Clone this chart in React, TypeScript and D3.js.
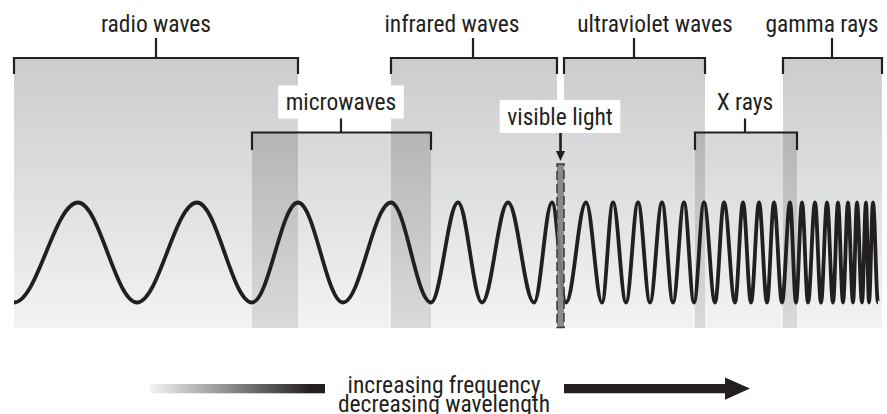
import React, { useEffect, useRef } from "react";
import * as d3 from "d3";

// spectrum bands, positions read along the diagram's horizontal axis
const bandNames = ["radio waves", "infrared waves", "ultraviolet waves", "gamma rays", "microwaves", "X rays", "visible light"];
const bandStart = [14, 391, 564, 783, 252, 695, 557];
const bandEnd = [298, 557, 705, 882, 431, 797, 564];
const bandTier = [0, 0, 0, 0, 1, 1, 2];
const bracketMid = [156, 473, 634, 832, 341, 745, 560];
const labelCenter = [156, 452, 655, 822, 341, 745, 560];

// wave extrema (troughs and peaks), shrinking wavelength to the right
const waveTroughs = [14, 137, 252, 343, 431, 482, 534, 566, 602, 626, 650, 673, 694, 715, 735, 751, 767, 782, 796, 808, 821, 833, 843, 853, 862, 869, 878];
const wavePeaks = [78, 197, 298, 391, 458, 508, 552, 586, 613, 638, 662, 684, 704, 724, 743, 759, 774, 790, 802, 815, 827, 838, 848, 857, 866, 873];

const captionLines = ["increasing frequency", "decreasing wavelength"];

const App: React.FC = () => {
  const ref = useRef<SVGSVGElement | null>(null);

  useEffect(() => {
    const width = 887;
    const height = 414;
    const ink = "#231f20";
    const font = "'Liberation Sans Narrow', 'Arial Narrow', 'Roboto Condensed', sans-serif";
    const fontSize = 23.5;

    const svg = d3.select(ref.current);
    svg.selectAll("*").remove();
    svg.attr("width", width).attr("height", height);

    const x = d3.scaleLinear().domain([0, width]).range([0, width]);
    const y = d3.scaleLinear().domain([-1, 1]).range([302.5, 202.5]);

    const bracketY = [58, 132.5, 164];
    const shadeTop = [58, 132.5, 132.5];
    const labelBase = [32, 110, 124.5];
    const floor = 328;

    const defs = svg.append("defs");
    const grad = (id: string, y1: number, y2: number, c1: string, c2: string) => {
      const lg = defs.append("linearGradient").attr("id", id)
        .attr("gradientUnits", "userSpaceOnUse")
        .attr("x1", 0).attr("x2", 0).attr("y1", y1).attr("y2", y2);
      lg.append("stop").attr("offset", 0).attr("stop-color", c1);
      lg.append("stop").attr("offset", 1).attr("stop-color", c2);
    };
    grad("shade", 58, floor, "#cbccce", "#f2f3f4");
    grad("overlap", 132.5, floor, "#b4b5b7", "#d9dadc");
    const fade = defs.append("linearGradient").attr("id", "fade")
      .attr("gradientUnits", "userSpaceOnUse")
      .attr("x1", 150).attr("x2", 325).attr("y1", 0).attr("y2", 0);
    fade.append("stop").attr("offset", 0).attr("stop-color", "#f4f4f4");
    fade.append("stop").attr("offset", 0.92).attr("stop-color", ink);
    fade.append("stop").attr("offset", 1).attr("stop-color", ink);

    const bands = bandNames.map((name, i) => ({
      name, from: bandStart[i], to: bandEnd[i], tier: bandTier[i], mid: bracketMid[i], labelX: labelCenter[i],
    }));

    // shaded areas
    svg.append("g").selectAll("rect").data(bands).join("rect")
      .attr("x", d => x(d.from)).attr("width", d => x(d.to) - x(d.from))
      .attr("y", d => shadeTop[d.tier]).attr("height", d => floor - shadeTop[d.tier])
      .attr("fill", "url(#shade)");

    // darker where two bands overlap
    const main = bands.filter(d => d.tier < 2);
    const overlaps: { from: number; to: number; top: number }[] = [];
    main.forEach((a, i) => main.slice(i + 1).forEach(b => {
      const lo = Math.max(a.from, b.from), hi = Math.min(a.to, b.to);
      if (hi > lo) overlaps.push({ from: lo, to: hi, top: Math.max(shadeTop[a.tier], shadeTop[b.tier]) });
    }));
    svg.append("g").selectAll("rect").data(overlaps).join("rect")
      .attr("x", d => x(d.from)).attr("width", d => x(d.to) - x(d.from))
      .attr("y", d => d.top).attr("height", d => floor - d.top)
      .attr("fill", "url(#overlap)");

    // white boxes + labels for inner tiers, plain labels on top
    const labels = svg.append("g").attr("font-family", font).attr("font-size", fontSize).attr("fill", ink);
    bands.forEach(d => {
      const g = labels.append("g");
      const box = g.append("rect").attr("fill", "#fff");
      const t = g.append("text")
        .attr("x", d.labelX).attr("y", labelBase[d.tier])
        .attr("text-anchor", "middle").text(d.name);
      if (d.tier > 0) {
        const w = (t.node() as SVGTextElement).getComputedTextLength();
        box.attr("x", d.labelX - w / 2 - 7.5).attr("width", w + 15)
          .attr("y", labelBase[d.tier] - 24.5).attr("height", 33);
      } else box.remove();
    });

    // brackets
    const br = svg.append("g").attr("fill", "none").attr("stroke", ink).attr("stroke-width", 2.2);
    main.forEach(d => {
      const by = bracketY[d.tier];
      const tick = d.tier === 0 ? 16 : 17.5;
      br.append("path").attr("d", `M${x(d.from)},${by + tick}V${by}H${x(d.to)}V${by + tick}`);
      const stemTop = d.tier === 0 ? 38 : labelBase[d.tier] + 8.5;
      br.append("path").attr("d", `M${x(d.mid)},${stemTop}V${by}`);
    });

    // wave
    const extrema = [
      ...waveTroughs.map(v => ({ x: v, a: -1 })),
      ...wavePeaks.map(v => ({ x: v, a: 1 })),
    ].sort((p, q) => p.x - q.x);
    const wave = d3.path();
    const k = 0.364;
    extrema.forEach((p, i) => {
      if (i === 0) { wave.moveTo(x(p.x), y(p.a)); return; }
      const q = extrema[i - 1];
      const dx = x(p.x) - x(q.x);
      wave.bezierCurveTo(x(q.x) + k * dx, y(q.a), x(p.x) - k * dx, y(p.a), x(p.x), y(p.a));
    });
    svg.append("path").attr("d", wave.toString())
      .attr("fill", "none").attr("stroke", ink).attr("stroke-width", 3.8).attr("stroke-linejoin", "round");

    // visible light strip and pointer
    const vis = bands.find(d => d.tier === 2)!;
    svg.append("rect")
      .attr("x", x(vis.from)).attr("width", x(vis.to) - x(vis.from))
      .attr("y", bracketY[2]).attr("height", floor - 0.5 - bracketY[2])
      .attr("fill", "#808183").attr("fill-opacity", 0.92)
      .attr("stroke", "#3b3a3b").attr("stroke-width", 1.5).attr("stroke-dasharray", "9,4");
    const vx = x(vis.mid) + 0.5;
    svg.append("path").attr("d", `M${vx},${labelBase[2] + 8.5}V${153}`)
      .attr("stroke", ink).attr("stroke-width", 2.6);
    svg.append("path").attr("d", `M${vx - 4.6},${151}L${vx + 4.6},${151}L${vx},${161}Z`).attr("fill", ink);

    // bottom arrow and caption
    svg.append("rect").attr("x", 150).attr("y", 384).attr("width", 175).attr("height", 9.3).attr("fill", "url(#fade)");
    svg.append("path").attr("d", "M564,384H725V377.5L750,388.6L725,399.7V393.3H564Z").attr("fill", ink);
    svg.append("g").attr("font-family", font).attr("font-size", fontSize).attr("fill", ink)
      .selectAll("text").data(captionLines).join("text")
      .attr("x", 444).attr("y", (_, i) => 393 + i * 19)
      .attr("text-anchor", "middle").text(d => d);
  }, []);

  return <svg ref={ref} style={{ position: "absolute", left: 0, top: 0, display: "block" }}></svg>;
};

export default App;
